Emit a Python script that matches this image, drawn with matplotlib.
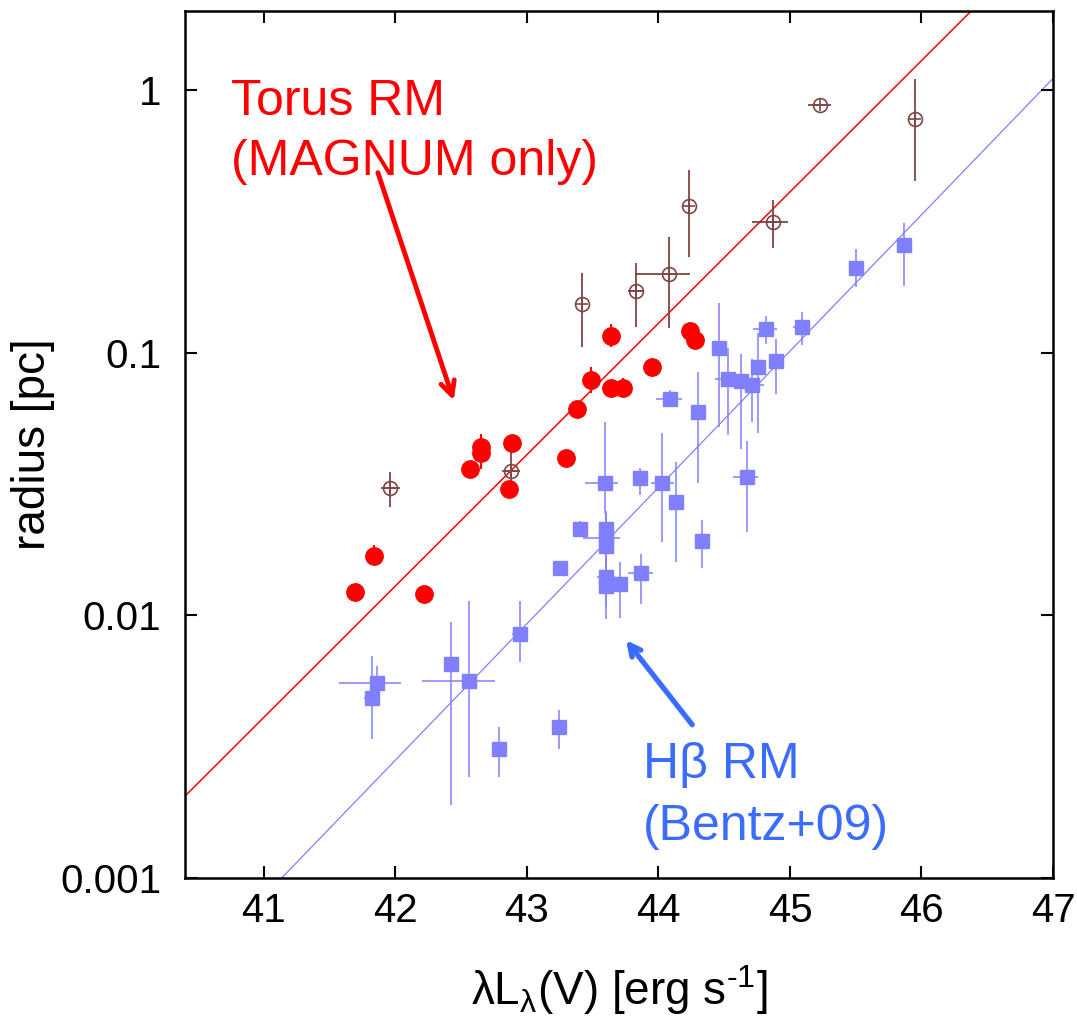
import numpy as np
import matplotlib.pyplot as plt

plt.rcParams['font.family'] = ['Liberation Sans', 'DejaVu Sans']
plt.rcParams['mathtext.fontset'] = 'custom'
plt.rcParams['mathtext.rm'] = 'Liberation Sans'

# Torus RM, MAGNUM (filled red circles)
magnum_L = [41.69, 41.84, 42.22, 42.57, 42.65, 42.65, 42.89, 42.86, 43.30,
            43.38, 43.49, 43.64, 43.64, 43.73, 43.95, 44.24, 44.28]
magnum_r = [0.0123, 0.0169, 0.0121, 0.0361, 0.0439, 0.0414, 0.0454, 0.0303, 0.0397,
            0.0609, 0.0787, 0.116, 0.0731, 0.0731, 0.0880, 0.121, 0.112]
magnum_lo = [0.0123, 0.0155, 0.0121, 0.0361, 0.0439, 0.0360, 0.0454, 0.0303, 0.0397,
             0.0609, 0.0700, 0.105, 0.0731, 0.0731, 0.0880, 0.121, 0.104]
magnum_hi = [0.0123, 0.0185, 0.0121, 0.0361, 0.0490, 0.0414, 0.0454, 0.0303, 0.0397,
             0.0609, 0.0880, 0.129, 0.0731, 0.0800, 0.0880, 0.129, 0.112]

# Torus RM, other (open brown circles)
other_L = [41.96, 42.88, 43.42, 43.83, 44.08, 44.23, 44.87, 45.23, 45.95]
other_r = [0.0305, 0.0354, 0.153, 0.172, 0.200, 0.363, 0.315, 0.879, 0.776]
other_lo = [0.0259, 0.0300, 0.105, 0.125, 0.124, 0.231, 0.250, 0.879, 0.451]
other_hi = [0.0352, 0.0420, 0.201, 0.219, 0.275, 0.496, 0.381, 0.879, 1.10]
other_xlo = [0.07, 0.07, 0.0, 0.06, 0.26, 0.0, 0.155, 0.09, 0.0]
other_xhi = [0.075, 0.07, 0.0, 0.06, 0.157, 0.0, 0.114, 0.08, 0.0]

# H-beta RM, Bentz+09 (blue squares)
hb_L = [45.87, 45.50, 45.09, 44.82, 44.89, 44.76, 44.46, 44.53, 44.63, 44.71,
        44.09, 44.30, 44.13, 43.59, 43.60, 43.60, 43.60, 43.60, 43.60, 43.40,
        43.25, 43.71, 43.87, 44.33, 44.67, 43.86, 44.03, 41.86, 41.82, 42.42,
        42.56, 42.95, 42.79, 43.24]
hb_r = [0.257, 0.210, 0.125, 0.123, 0.0929, 0.0882, 0.1045, 0.0794, 0.0782, 0.0753,
        0.0667, 0.0595, 0.0271, 0.0318, 0.0214, 0.0197, 0.0183, 0.0140, 0.0129, 0.0213,
        0.0151, 0.0132, 0.0145, 0.0192, 0.0337, 0.0334, 0.0318, 0.00551, 0.00486, 0.00653,
        0.00562, 0.00849, 0.0031, 0.00377]
hb_lo = [0.180, 0.178, 0.107, 0.108, 0.0695, 0.0493, 0.0523, 0.0486, 0.043, 0.0546,
         0.062, 0.0319, 0.0159, 0.0245, 0.018, 0.0150, 0.0125, 0.0108, 0.0097, 0.0198,
         0.0145, 0.0098, 0.0110, 0.0152, 0.0208, 0.0287, 0.0191, 0.0050, 0.00338, 0.0019,
         0.00243, 0.00663, 0.00243, 0.0031]
hb_hi = [0.313, 0.248, 0.143, 0.138, 0.1127, 0.1186, 0.154, 0.104, 0.099, 0.095,
         0.072, 0.0842, 0.0385, 0.0546, 0.025, 0.0246, 0.0225, 0.0165, 0.0160, 0.0228,
         0.0158, 0.0159, 0.0172, 0.0230, 0.0461, 0.0363, 0.0493, 0.0064, 0.00703, 0.00941,
         0.0113, 0.0113, 0.00377, 0.00436]
hb_xlo = [0.0, 0.0, 0.065, 0.10, 0.05, 0.0, 0.0, 0.10, 0.0, 0.055,
          0.11, 0.0, 0.0, 0.15, 0.0, 0.17, 0.0, 0.07, 0.0, 0.0,
          0.0, 0.0, 0.10, 0.0, 0.10, 0.0, 0.09, 0.29, 0.06, 0.0,
          0.36, 0.06, 0.0, 0.0]
hb_xhi = [0.0, 0.0, 0.065, 0.08, 0.05, 0.0, 0.0, 0.09, 0.0, 0.095,
          0.09, 0.0, 0.0, 0.10, 0.0, 0.11, 0.0, 0.07, 0.0, 0.0,
          0.0, 0.0, 0.09, 0.0, 0.09, 0.0, 0.09, 0.18, 0.06, 0.0,
          0.20, 0.06, 0.0, 0.0]

# fitted relations: log r = a + b * (L - L0)
torus_fit = (-0.888, 0.5, 44.0)
hb_fit = (-1.513, 0.519, 44.0)

red = '#ff0000'
brown = '#7f4545'
sq_blue = '#8080ff'
txt_blue = '#3a6cff'

fig = plt.figure(figsize=(10.77, 10.16), dpi=100)
ax = fig.add_axes([0.1718, 0.1358, 0.8059, 0.8534])

xx = np.linspace(40.4, 47.0, 200)
for (a, b, x0), c, lw in [(torus_fit, red, 1.1), (hb_fit, sq_blue, 0.9)]:
    ax.plot(xx, 10 ** (a + b * (xx - x0)), color=c, lw=lw, zorder=1)


def err(v, lo, hi):
    v, lo, hi = np.array(v), np.array(lo), np.array(hi)
    return [v - lo, hi - v]


ax.errorbar(hb_L, hb_r, yerr=err(hb_r, hb_lo, hb_hi), xerr=[hb_xlo, hb_xhi],
            fmt='s', ms=10, color=sq_blue, mec=sq_blue, ecolor=sq_blue,
            elinewidth=1.1, capsize=0, zorder=2)

ax.errorbar(other_L, other_r, yerr=err(other_r, other_lo, other_hi),
            xerr=[other_xlo, other_xhi], fmt='o', ms=10, mfc='none', mec=brown,
            mew=1.2, ecolor=brown, elinewidth=1.3, capsize=0, zorder=3)
ax.plot(other_L, other_r, '+', ms=9, mew=1.2, color=brown, zorder=3)

ax.errorbar(magnum_L, magnum_r, yerr=err(magnum_r, magnum_lo, magnum_hi),
            fmt='o', ms=12.5, color=red, ecolor=red, elinewidth=1.5,
            capsize=0, zorder=4)

ax.set_yscale('log')
ax.set_xlim(40.4, 47)
ax.set_ylim(0.001, 2)
ax.set_xticks([41, 42, 43, 44, 45, 46, 47])
ax.set_yticks([0.001, 0.01, 0.1, 1])
ax.set_yticklabels(['0.001', '0.01', '0.1', '1'])
ax.minorticks_off()
ax.tick_params(which='both', direction='in', top=True, right=True,
               length=8.5, width=1.5, labelsize=29)
ax.tick_params(axis='x', pad=10)
ax.tick_params(axis='y', pad=17)
for s in ax.spines.values():
    s.set_linewidth(1.8)

ax.set_xlabel('λL$_{\\mathregular{λ}}$(V) [erg s$^{\\mathregular{\u2010 1}}$]',
              fontsize=33, labelpad=24)
ax.set_ylabel('radius [pc]', fontsize=33, labelpad=4)

ax.text(40.75, 0.803, 'Torus RM', color=red, fontsize=36, va='baseline')
ax.text(40.75, 0.475, '(MAGNUM only)', color=red, fontsize=36, va='baseline')
ax.annotate('', xy=(42.45, 0.0643), xytext=(41.86, 0.496),
            arrowprops=dict(arrowstyle='->,head_length=1.0,head_width=0.5',
                            color=red, lw=3.5))

ax.text(43.88, 0.0024, 'Hβ RM', color=txt_blue, fontsize=36, va='baseline')
ax.text(43.88, 0.0014, '(Bentz+09)', color=txt_blue, fontsize=36, va='baseline')
ax.annotate('', xy=(43.74, 0.0082), xytext=(44.27, 0.00376),
            arrowprops=dict(arrowstyle='->,head_length=0.8,head_width=0.4',
                            color=txt_blue, lw=3.8))

fig.savefig('out.png', dpi=100)
